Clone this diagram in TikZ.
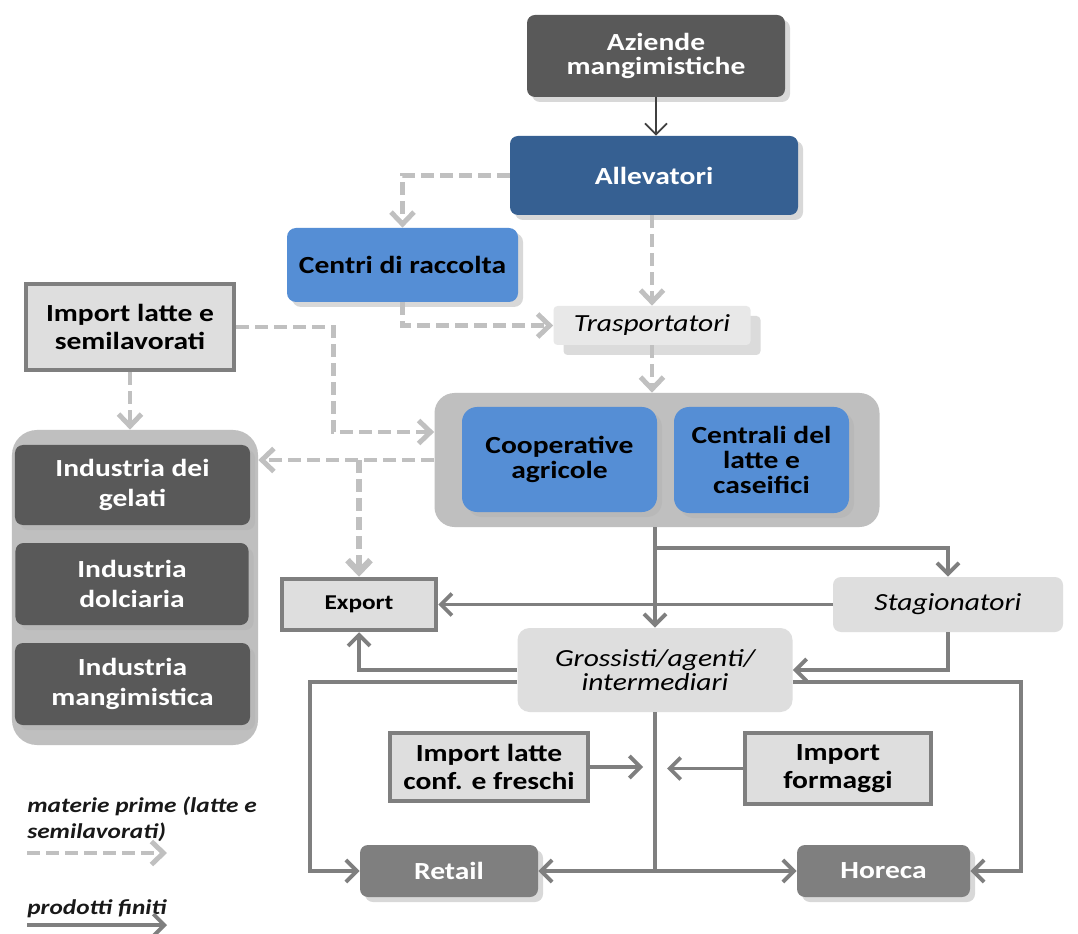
\documentclass[tikz,border=0pt]{standalone}
\usepackage{fontspec}
\setmainfont{Carlito}[FakeStretch=1.2]
\usepackage{tikz}
\usetikzlibrary{arrows.meta, positioning, calc, shadows}
\definecolor{dkgray}{HTML}{595959}
\definecolor{navy}{HTML}{366092}
\definecolor{skyblue}{HTML}{558ED5}
\definecolor{pale}{HTML}{DEDEDE}
\definecolor{midgray}{HTML}{7F7F7F}
\definecolor{grpgray}{HTML}{BFBFBF}
\definecolor{dashgray}{HTML}{C0C0C0}
\tikzset{
  shd/.style ={drop shadow={shadow xshift=1mm, shadow yshift=-1mm, fill=black!30}},
  dk/.style  ={rectangle, rounded corners=1.6mm, fill=dkgray, text=white, align=center, shd,
               font=\bfseries\fontsize{14}{14}\selectfont},
  blu/.style ={rectangle, rounded corners=1.8mm, fill=skyblue, text=black, align=center, shd,
               font=\bfseries\fontsize{14}{14}\selectfont},
  imbox/.style={rectangle, draw=midgray, line width=0.9mm, fill=pale, align=center,
               font=\bfseries\fontsize{14}{16}\selectfont},
  soft/.style={rectangle, rounded corners=1.6mm, fill=pale, align=center,
               font=\itshape\fontsize{14}{13.5}\selectfont},
  grp/.style ={rectangle, rounded corners=4mm, fill=grpgray},
  fl/.style  ={draw=midgray, line width=2.2pt, -{Straight Barb[length=2.2mm, width=4.4mm]}},
  dfl/.style ={draw=dashgray, line width=2.8pt, dash pattern=on 2.6mm off 1.2mm,
               -{Straight Barb[length=2.4mm, width=4.6mm]}},
  fk/.style  ={draw=black!75, line width=1pt, -{Straight Barb[length=2.2mm, width=4.4mm]}},
  leg/.style ={anchor=north west, inner sep=0pt, align=left, text=black!90,
               font=\bfseries\itshape\fontsize{12}{14.5}\selectfont},
}
\begin{document}
\begin{tikzpicture}[x=0.2mm, y=-0.2mm]
  \fill[white] (0,0) rectangle (1078,934);
  \useasboundingbox (0,0) rectangle (1078,934);
  % upper chain
  \node[dk, minimum width=51.6mm, minimum height=16.4mm] (azi) at (656,56) {Aziende\\mangimistiche};
  \node[dk, fill=navy, minimum width=57.6mm, minimum height=15.8mm] (all) at (654,175.5) {Allevatori};
  \node[blu, minimum width=46.2mm, minimum height=14.8mm] (cen) at (402.5,265) {Centri di raccolta};
  \node[soft, fill=black!9, rounded corners=0.8mm, minimum width=39.4mm, minimum height=7.8mm,
        drop shadow={shadow xshift=2mm, shadow yshift=-2mm, fill=black!28}] (tra) at (652,325.5) {Trasportatori};
  \node[imbox, minimum width=41.6mm, minimum height=17.2mm] (imp) at (130,327) {Import latte e\\semilavorati};
  % cooperative group
  \node[grp, minimum width=89mm, minimum height=26.8mm] (grp) at (657,460) {};
  \node[blu, rounded corners=3mm, minimum width=39mm, minimum height=21mm] (coo) at (559.5,459.5) {Cooperative\\agricole};
  \node[blu, rounded corners=3mm, minimum width=35mm, minimum height=21.2mm] (cnt) at (761.5,460) {Centrali del\\latte e\\caseifici};
  % industry group
  \node[grp, rounded corners=5mm, minimum width=49.2mm, minimum height=63mm] (indg) at (135,587.5) {};
  \node[dk, font=\bfseries\fontsize{14}{17.5}\selectfont, minimum width=47mm, minimum height=16mm] (gel) at (132.5,485) {Industria dei\\gelati};
  \node[dk, font=\bfseries\fontsize{14}{17.5}\selectfont, minimum width=46.6mm, minimum height=16.4mm] (dol) at (132,584) {Industria\\dolciaria};
  \node[dk, font=\bfseries\fontsize{14}{17.5}\selectfont, minimum width=47mm, minimum height=16.4mm] (man) at (132.5,684) {Industria\\mangimistica};
  % lower part
  \node[imbox, font=\bfseries\fontsize{12}{14}\selectfont, minimum width=30.8mm, minimum height=10.2mm] (exp) at (359,604.5) {Export};
  \node[soft, minimum width=46mm, minimum height=11mm] (sta) at (948,604.5) {Stagionatori};
  \node[soft, rounded corners=2.4mm, minimum width=55mm, minimum height=16.8mm] (gro) at (655,670) {Grossisti/agenti/\\intermediari};
  \node[imbox, minimum width=39.6mm, minimum height=13.6mm] (ilc) at (489,767) {Import latte\\conf. e freschi};
  \node[imbox, minimum width=37.2mm, minimum height=14.2mm] (ifo) at (838,768.5) {Import\\formaggi};
  \node[dk, fill=midgray, minimum width=35.6mm, minimum height=10.4mm] (ret) at (449,871) {Retail};
  \node[dk, fill=midgray, minimum width=34.6mm, minimum height=10.4mm] (hor) at (883.5,871) {Horeca};
  % legend
  \node[leg] (lg1) at (27,797) {materie prime (latte e\\semilavorati)};
  \node[leg] (lg2) at (27,899) {prodotti finiti};
  \coordinate (la1) at (27,853);
  \coordinate (lb1) at (167,853);
  \coordinate (la2) at (27,925);
  \coordinate (lb2) at (167,925);
  % raw material flows
  \draw[fk] (azi.south) -- (azi.south |- all.north);
  \draw[dfl] (all.west) -| (cen.north);
  \draw[dfl] (all.south -| tra.north) -- (tra.north);
  \draw[dfl] (cen.south) |- (tra.west);
  \draw[dfl] (tra.south) -- (tra.south |- grp.north);
  \draw[dfl] (imp.east) -- ++(97,0) |- ($(grp.west)+(0,-28)$);
  \draw[dfl] (imp.south) -- (imp.south |- indg.north);
  \draw[dfl] (grp.west) -- (grp.west -| indg.east);
  \draw[dfl, line width=3.6pt] (grp.west -| exp.north) -- (exp.north);
  % finished products
  \draw[fl] (grp.south -| gro.north) -- (gro.north);
  \coordinate (br) at ($(grp.south -| gro.north)+(0,21)$);
  \draw[fl] (br) -| (sta.north);
  \draw[fl] (sta.west) -- (exp.east);
  \draw[fl] (sta.south) |- (gro.east);
  \draw[fl] (gro.west) -| (exp.south);
  \draw[fl] ($(gro.west)+(0,12)$) -- ++(-207,0) |- (ret.west);
  \draw[fl] ($(gro.east)+(0,12)$) -- ++(228,0) |- (hor.east);
  \coordinate (jn) at (gro.south |- ret.east);
  \draw[fl] (gro.south) -- (jn) -- (ret.east);
  \draw[fl] (jn) -- (hor.west);
  \draw[fl] (ilc.east) -- ($(ilc.east -| gro.south)+(-12,0)$);
  \draw[fl] (ifo.west) -- ($(ifo.west -| gro.south)+(12,0)$);
  % legend arrows
  \draw[dfl] (la1) -- (lb1);
  \draw[fl] (la2) -- (lb2);
\end{tikzpicture}
\end{document}
